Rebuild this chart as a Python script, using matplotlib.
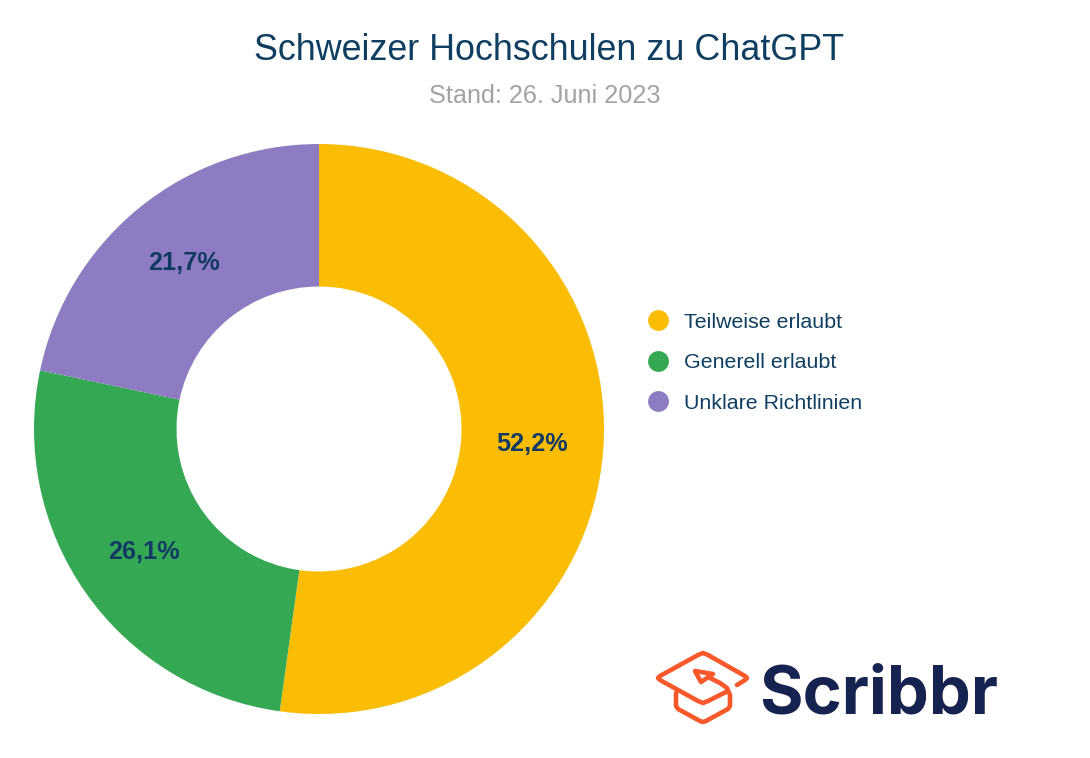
import matplotlib
matplotlib.use("Agg")
import matplotlib.pyplot as plt
from matplotlib.lines import Line2D
from matplotlib.patches import Polygon

plt.rcParams['font.family'] = ['Liberation Sans', 'DejaVu Sans']

# Daten
categories = ["Teilweise erlaubt", "Generell erlaubt", "Unklare Richtlinien"]
values = [52.2, 26.1, 21.7]
colors = ['#FBBC04', '#34A853', '#8E7CC3']

W, H = 1090, 758
text_color = '#0F3F60'

fig = plt.figure(figsize=(W/100, H/100), dpi=100, facecolor='white')

# Ring: Mitte (319, 429), Radius 285 px
ax = fig.add_axes([34/W, (H-714)/H, 570/W, 570/H])
wedges, _, pct = ax.pie(values, colors=colors, startangle=90, counterclock=False,
                        radius=1, wedgeprops=dict(width=0.5),
                        autopct=lambda p: f"{p:.1f}%".replace('.', ','),
                        pctdistance=0.75)
ax.set_xlim(-1, 1)
ax.set_ylim(-1, 1)
for t in pct:
    t.set_fontsize(18.2)
    t.set_fontweight('bold')
    t.set_color('#123A63')

# Titel
fig.text(549.5/W, 1-60.5/H, "Schweizer Hochschulen zu ChatGPT", fontsize=25.85,
         color=text_color, ha='center', va='baseline')
fig.text(544.5/W, 1-103/H, "Stand: 26. Juni 2023", fontsize=18.2,
         color='#A3A3A3', ha='center', va='baseline')

# Legende
handles = [Line2D([], [], ls='none', marker='o', ms=15, mfc=c, mec='none') for c in colors]
fig.legend(handles, categories, loc='upper left', bbox_to_anchor=(642/W, 1-312.5/H),
           frameon=False, fontsize=15.4, labelcolor=text_color, borderpad=0,
           borderaxespad=0, handletextpad=0.47, labelspacing=1.01, handlelength=1.5)

# Logo, Overlay in Pixelkoordinaten
ov = fig.add_axes([0, 0, 1, 1])
ov.set_xlim(0, W)
ov.set_ylim(H, 0)
ov.axis('off')
ov.patch.set_alpha(0)

orange = '#F9592A'
line_style = dict(color=orange, lw=3.3, solid_joinstyle='round', solid_capstyle='round')
# Hut
ov.plot([737, 745, 747, 745, 708, 703, 698, 660, 658, 660, 698, 703, 708, 728],
        [685, 680, 678, 676, 655, 653, 655, 676, 678, 680, 701, 703, 701, 691], **line_style)
ov.plot([676, 676, 678, 700, 703, 706, 728, 730, 730, 727, 720, 708],
        [693, 706, 709, 721, 722, 721, 709, 706, 695, 688, 683, 677], **line_style)
ov.add_patch(Polygon([[695, 671], [713, 674], [701, 682]], closed=True, fill=False,
                     edgecolor=orange, lw=3.3, joinstyle='round'))

ov.text(759, 713, "Scribbr", family='Inter', fontweight='bold', fontsize=48,
        color='#16224F', ha='left', va='baseline')

fig.savefig("out.png", dpi=100)
